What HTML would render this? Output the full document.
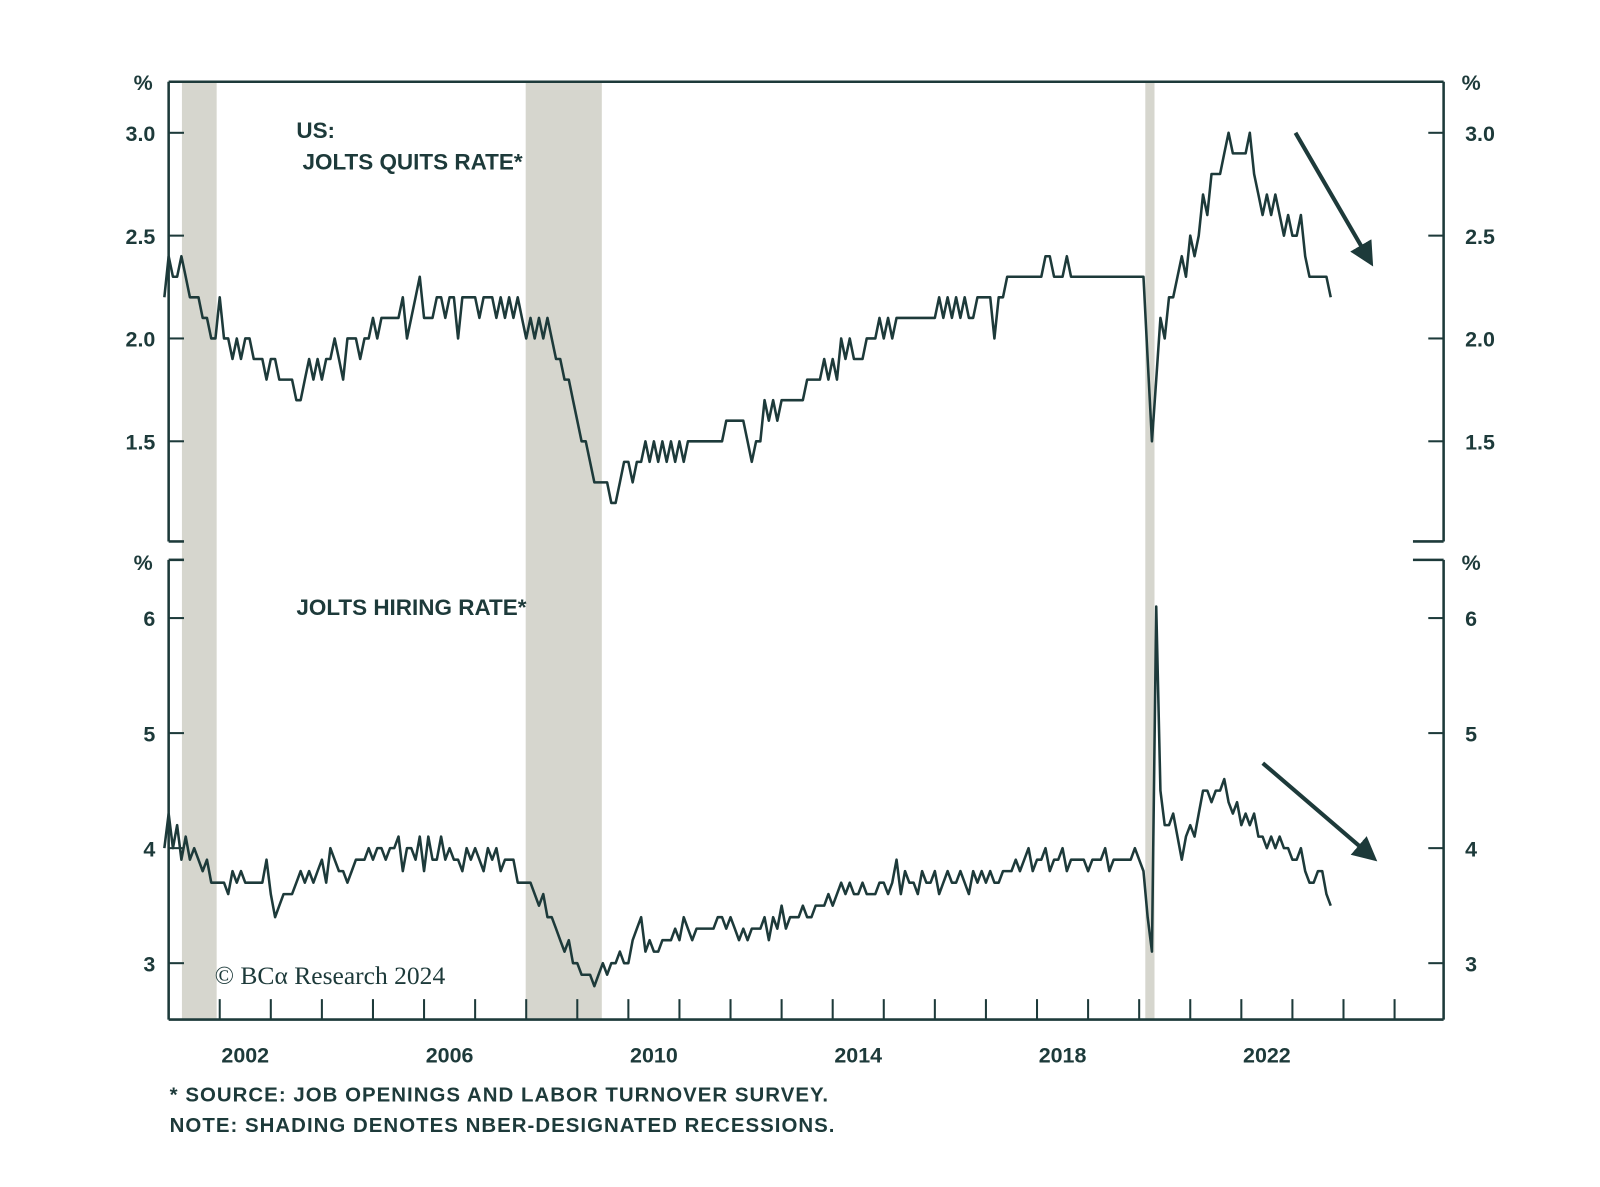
<!DOCTYPE html>
<html><head><meta charset="utf-8"><style>
body{margin:0;background:#fff;}
svg text{font-family:"Liberation Sans",sans-serif;fill:#1d3a3a;}
</style></head><body>
<svg id="chart" width="1600" height="1182" viewBox="0 0 1566 1157">
<g id="rec"></g>
<g id="axes"></g>
<g id="lines"></g>
<text x="290" y="135" font-size="22" font-weight="bold">US:</text>
<text x="296" y="166" font-size="22" font-weight="bold">JOLTS QUITS RATE*</text>
<text x="290" y="602" font-size="22" font-weight="bold">JOLTS HIRING RATE*</text>
<text x="210" y="963" font-size="25" style="font-family:'Liberation Serif',serif">© BCα Research 2024</text>
<text x="166" y="1078" font-size="20" font-weight="bold" letter-spacing="1">*  SOURCE: JOB OPENINGS AND LABOR TURNOVER SURVEY.</text>
<text x="166" y="1108" font-size="20" font-weight="bold" letter-spacing="1">NOTE: SHADING DENOTES NBER-DESIGNATED RECESSIONS.</text>
<defs><marker id="ah" markerWidth="6" markerHeight="6" refX="4" refY="3" orient="auto"><path d="M0,0 L6,3 L0,6 z" fill="#1d3a3a"/></marker></defs>
<line x1="1268" y1="130" x2="1340" y2="254" stroke="#1d3a3a" stroke-width="4" marker-end="url(#ah)"/>
<line x1="1236" y1="747" x2="1342" y2="838" stroke="#1d3a3a" stroke-width="4" marker-end="url(#ah)"/>
</svg>
<script>
const quitsStart = 2000.917;
const quits = [2.2,
2.4,2.3,2.3,2.4,2.3,2.2,2.2,2.2,2.1,2.1,2.0,2.0,
2.2,2.0,2.0,1.9,2.0,1.9,2.0,2.0,1.9,1.9,1.9,1.8,
1.9,1.9,1.8,1.8,1.8,1.8,1.7,1.7,1.8,1.9,1.8,1.9,
1.8,1.9,1.9,2.0,1.9,1.8,2.0,2.0,2.0,1.9,2.0,2.0,
2.1,2.0,2.1,2.1,2.1,2.1,2.1,2.2,2.0,2.1,2.2,2.3,
2.1,2.1,2.1,2.2,2.2,2.1,2.2,2.2,2.0,2.2,2.2,2.2,
2.2,2.1,2.2,2.2,2.2,2.1,2.2,2.1,2.2,2.1,2.2,2.1,
2.0,2.1,2.0,2.1,2.0,2.1,2.0,1.9,1.9,1.8,1.8,1.7,
1.6,1.5,1.5,1.4,1.3,1.3,1.3,1.3,1.2,1.2,1.3,1.4,
1.4,1.3,1.4,1.4,1.5,1.4,1.5,1.4,1.5,1.4,1.5,1.4,
1.5,1.4,1.5,1.5,1.5,1.5,1.5,1.5,1.5,1.5,1.5,1.6,
1.6,1.6,1.6,1.6,1.5,1.4,1.5,1.5,1.7,1.6,1.7,1.6,
1.7,1.7,1.7,1.7,1.7,1.7,1.8,1.8,1.8,1.8,1.9,1.8,
1.9,1.8,2.0,1.9,2.0,1.9,1.9,1.9,2.0,2.0,2.0,2.1,
2.0,2.1,2.0,2.1,2.1,2.1,2.1,2.1,2.1,2.1,2.1,2.1,
2.1,2.2,2.1,2.2,2.1,2.2,2.1,2.2,2.1,2.1,2.2,2.2,
2.2,2.2,2.0,2.2,2.2,2.3,2.3,2.3,2.3,2.3,2.3,2.3,
2.3,2.3,2.4,2.4,2.3,2.3,2.3,2.4,2.3,2.3,2.3,2.3,
2.3,2.3,2.3,2.3,2.3,2.3,2.3,2.3,2.3,2.3,2.3,2.3,
2.3,2.3,1.9,1.5,1.8,2.1,2.0,2.2,2.2,2.3,2.4,2.3,
2.5,2.4,2.5,2.7,2.6,2.8,2.8,2.8,2.9,3.0,2.9,2.9,
2.9,2.9,3.0,2.8,2.7,2.6,2.7,2.6,2.7,2.6,2.5,2.6,
2.5,2.5,2.6,2.4,2.3,2.3,2.3,2.3,2.3,2.2];
const hires = [4.0,
4.3,4.0,4.2,3.9,4.1,3.9,4.0,3.9,3.8,3.9,3.7,3.7,
3.7,3.7,3.6,3.8,3.7,3.8,3.7,3.7,3.7,3.7,3.7,3.9,
3.6,3.4,3.5,3.6,3.6,3.6,3.7,3.8,3.7,3.8,3.7,3.8,
3.9,3.7,4.0,3.9,3.8,3.8,3.7,3.8,3.9,3.9,3.9,4.0,
3.9,4.0,4.0,3.9,4.0,4.0,4.1,3.8,4.0,4.0,3.9,4.1,
3.8,4.1,3.9,3.9,4.1,3.9,4.0,3.9,3.9,3.8,4.0,3.9,
4.0,3.9,3.8,4.0,3.9,4.0,3.8,3.9,3.9,3.9,3.7,3.7,
3.7,3.7,3.6,3.5,3.6,3.4,3.4,3.3,3.2,3.1,3.2,3.0,
3.0,2.9,2.9,2.9,2.8,2.9,3.0,2.9,3.0,3.0,3.1,3.0,
3.0,3.2,3.3,3.4,3.1,3.2,3.1,3.1,3.2,3.2,3.2,3.3,
3.2,3.4,3.3,3.2,3.3,3.3,3.3,3.3,3.3,3.4,3.4,3.3,
3.4,3.3,3.2,3.3,3.2,3.3,3.3,3.3,3.4,3.2,3.4,3.3,
3.5,3.3,3.4,3.4,3.4,3.5,3.4,3.4,3.5,3.5,3.5,3.6,
3.5,3.6,3.7,3.6,3.7,3.6,3.6,3.7,3.6,3.6,3.6,3.7,
3.7,3.6,3.7,3.9,3.6,3.8,3.7,3.7,3.6,3.8,3.7,3.7,
3.8,3.6,3.7,3.8,3.7,3.7,3.8,3.7,3.6,3.8,3.7,3.8,
3.7,3.8,3.7,3.7,3.8,3.8,3.8,3.9,3.8,3.9,4.0,3.8,
3.9,3.9,4.0,3.8,3.9,3.9,4.0,3.8,3.9,3.9,3.9,3.9,
3.8,3.9,3.9,3.9,4.0,3.8,3.9,3.9,3.9,3.9,3.9,4.0,
3.9,3.8,3.4,3.1,6.1,4.5,4.2,4.2,4.3,4.1,3.9,4.1,
4.2,4.1,4.3,4.5,4.5,4.4,4.5,4.5,4.6,4.4,4.3,4.4,
4.2,4.3,4.2,4.3,4.1,4.1,4.0,4.1,4.0,4.1,4.0,4.0,
3.9,3.9,4.0,3.8,3.7,3.7,3.8,3.8,3.6,3.5];
const recessions = [[2001.26,2001.94],[2007.99,2009.48],[2020.12,2020.3]];
const quitsTicks = [3.0,2.5,2.0,1.5];
const quitsTickLabels = ["3.0","2.5","2.0","1.5"];
const hiresTicks = [6,5,4,3];
const hiresTickLabels = ["6","5","4","3"];
const yearLabels = [2002,2006,2010,2014,2018,2022];

const NS="http://www.w3.org/2000/svg";
const L=165,R=1413;
const x=t=>215+(t-2002)*50;
const yq=v=>130+(3.0-v)*201.3;
const yh=v=>605+(6-v)*112.6;
const C="#1d3a3a";
function mk(tag,attrs,parent){const e=document.createElementNS(NS,tag);for(const k in attrs)e.setAttribute(k,attrs[k]);document.getElementById(parent).appendChild(e);return e;}

recessions.forEach(r=>{
  const e=mk('rect',{x:x(r[0]),y:80,width:x(r[1])-x(r[0]),height:918,fill:'#d6d6ce'},'rec');
  
  
});
const fr=[[L,80,R,80],[L,80,L,530],[R,80,R,530],[L,548,L,998],[R,548,R,998],[L,998,R,998],
[L,530,180,530],[L,548,180,548],[1383,530,R,530],[1383,548,R,548]];
fr.forEach(f=>{const e=mk('line',{x1:f[0],y1:f[1],x2:f[2],y2:f[3],stroke:C,'stroke-width':2.5},'axes');
  
  });
function yTicks(ticks,labels,fy){
  ticks.forEach((v,i)=>{
    const y=fy(v);
    mk('line',{x1:L,y1:y,x2:L+15,y2:y,stroke:C,'stroke-width':2},'axes');
    mk('line',{x1:R-15,y1:y,x2:R,y2:y,stroke:C,'stroke-width':2},'axes');
    const a=mk('text',{x:L-13,y:y+8,'font-size':21,'font-weight':'bold','text-anchor':'end'},'axes');a.textContent=labels[i];
    
    
    const b=mk('text',{x:R+21,y:y+8,'font-size':21,'font-weight':'bold'},'axes');b.textContent=labels[i];
    
    
  });
}
yTicks(quitsTicks,quitsTickLabels,yq);
yTicks(hiresTicks,hiresTickLabels,yh);
[[140,88],[1440,88],[140,558],[1440,558]].forEach(p=>{const t=mk('text',{x:p[0],y:p[1],'font-size':21,'font-weight':'bold','text-anchor':'middle'},'axes');t.textContent='%';
  
  });
for(let yr=2002;yr<=2025;yr++){mk('line',{x1:x(yr),y1:998,x2:x(yr),y2:978,stroke:C,'stroke-width':2},'axes');}
yearLabels.forEach(yr=>{const t=mk('text',{x:x(yr)+25,y:1040,'font-size':21,'font-weight':'bold','text-anchor':'middle'},'axes');t.textContent=yr;
  
  });
function line(data,fy,name){
  const pts=data.map((v,i)=>x(quitsStart+i/12).toFixed(1)+','+fy(v).toFixed(1)).join(' ');
  const p=mk('polyline',{points:pts,fill:'none',stroke:C,'stroke-width':2.5,'stroke-linejoin':'round'},'lines');
  
  
}
line(quits,yq,'quits-rate-line');
line(hires,yh,'hiring-rate-line');
</script>
</body></html>
